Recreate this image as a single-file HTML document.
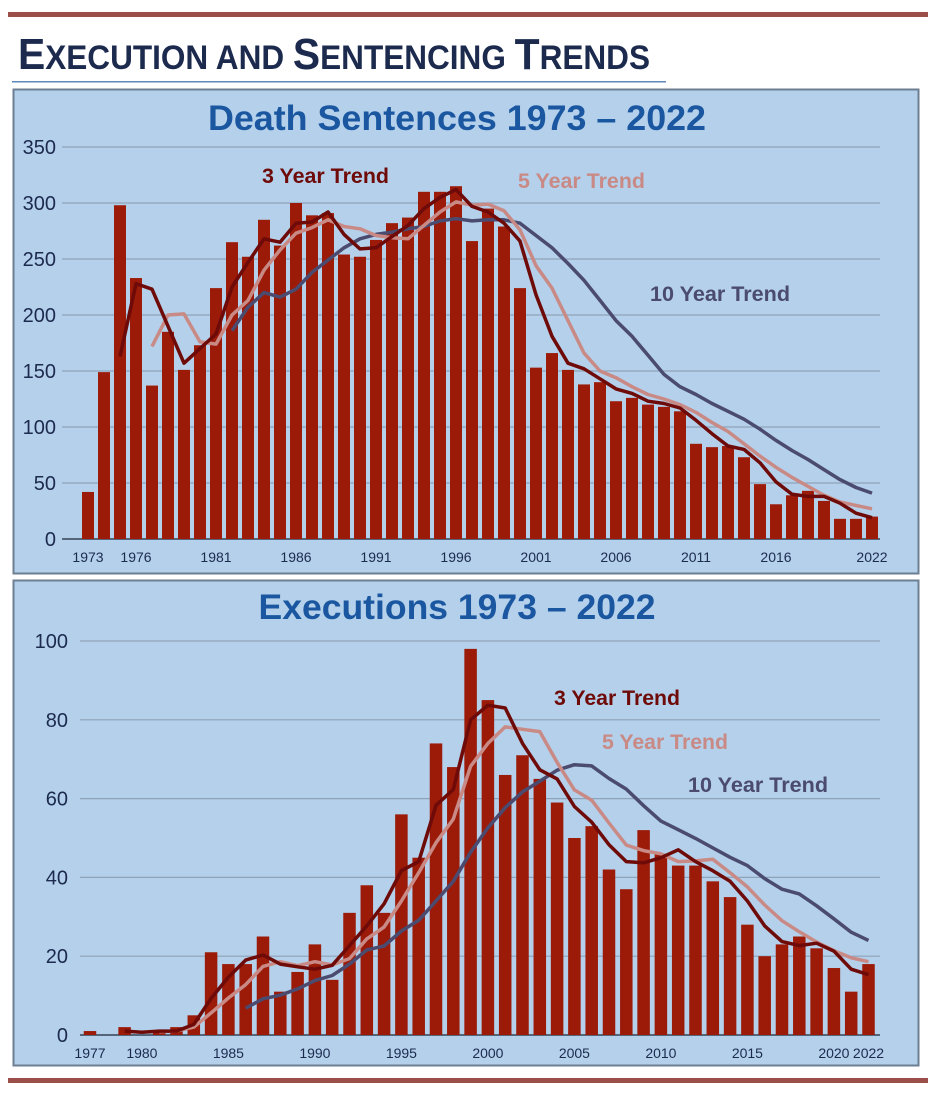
<!DOCTYPE html>
<html><head><meta charset="utf-8">
<style>
html,body{margin:0;padding:0;background:#fff;}
svg{display:block;font-family:"Liberation Sans",sans-serif;}
</style></head>
<body>
<svg id="s" width="936" height="1094" viewBox="0 0 936 1094" xmlns="http://www.w3.org/2000/svg">
<rect x="8" y="12" width="920" height="5" fill="#9c4f48"/>
<text x="18" y="69" font-size="44" font-weight="bold" fill="#1c2a4e" textLength="632" lengthAdjust="spacingAndGlyphs">E<tspan font-size="34">XECUTION AND </tspan>S<tspan font-size="34">ENTENCING </tspan>T<tspan font-size="34">RENDS</tspan></text>
<rect x="12" y="81" width="654" height="1.5" fill="#5d88b8"/>
<rect x="13.5" y="89.5" width="905" height="484" fill="#b4d0ea" stroke="#6c7f93" stroke-width="2"/>
<rect x="13.5" y="580.5" width="905" height="485" fill="#b4d0ea" stroke="#6c7f93" stroke-width="2"/>
<rect x="8" y="1078" width="920" height="5" fill="#9c4f48"/>
<g id="c1"></g><g id="c2"></g>
</svg>
<script>
// Death sentences data
const dsYears=[];for(let y=1973;y<=2022;y++)dsYears.push(y);
const dsValues=[42,149,298,233,137,185,151,173,224,265,252,285,262,300,289,291,254,252,267,282,287,310,310,315,266,295,279,224,153,166,151,138,140,123,126,120,118,114,85,82,83,73,49,31,39,43,34,18,18,20];
const ds3Start=1975;
const ds3=[163,228,223,190,157,170,183,225,247,268,265,282,283,292,272,259,260,270,280,295,305,312,297,292,282,266,218,181,157,152,143,134,130,123,121,117,106,94,83,80,68,51,40,38,38,32,23,19];
const ds5Start=1977;
const ds5=[172,200,201,176,174,200,213,240,258,273,278,285,279,277,271,269,268,280,292,301,298,299,293,276,244,224,195,166,150,144,136,129,125,120,113,104,96,85,74,64,55,47,39,33,30,27];
const ds10Start=1982;
const ds10=[186,207,220,216,223,238,249,260,268,272,274,277,279,284,286,284,285,285,282,271,260,246,231,213,195,181,164,147,136,129,121,114,107,98,88,79,71,62,53,46,41];
const dsYTicks=[0,50,100,150,200,250,300,350];
const dsXLabels=[1973,1976,1981,1986,1991,1996,2001,2006,2011,2016,2022];
// Executions data
const exYears=[];for(let y=1977;y<=2022;y++)exYears.push(y);
const exValues=[1,0,2,0,1,2,5,21,18,18,25,11,16,23,14,31,38,31,56,45,74,68,98,85,66,71,65,59,50,53,42,37,52,46,43,43,39,35,28,20,23,25,22,17,11,18];
const ex3Start=1979;
const ex3=[1,0.7,1,1,2.7,9.3,14.7,19,20.3,18,17.3,16.7,17.7,22.7,27.7,33.3,41.7,44,58.3,62.3,80,83.7,83,74,67.3,65,58,54,48.3,44,43.7,45,47,44,41.7,39,34,27.7,23.7,22.7,23.3,21.3,16.7,15.3];
const ex5Start=1981;
const ex5=[0.8,1,2,5.6,9.4,12.8,17.4,18.6,17.6,18.6,17.8,19.4,24.4,27.4,34,41.2,48.8,54.8,68.2,74,78.2,77.6,77,69.2,62.2,59.6,53.8,48.2,46.8,46,44,44.2,44.6,41.2,37.6,33,29,26.2,23.6,21.4,19.6,18.6];
const ex10Start=1986;
const ex10=[6.8,9.2,10.1,11.7,13.8,15.1,18.0,21.6,22.6,26.4,29.1,34.0,39.0,46.4,52.6,57.7,61.7,64.4,67.2,68.6,68.3,65.1,62.4,58.2,54.3,52.1,49.9,47.5,45.1,43.0,39.7,37.0,35.8,32.8,29.5,26.1,24.0];
const exYTicks=[0,20,40,60,80,100];
const exXLabels=[1977,1980,1985,1990,1995,2000,2005,2010,2015,2020,2022];

const NS="http://www.w3.org/2000/svg";
function mk(tag,attrs,parent){const e=document.createElementNS(NS,tag);for(const k in attrs)e.setAttribute(k,attrs[k]);parent.appendChild(e);return e;}

function chart(g,cfg){
  const x=yr=>cfg.x0+(yr-cfg.firstYear)*cfg.step;
  const y=v=>cfg.yBase-(v/cfg.yMax)*(cfg.yBase-cfg.yTop);
  const t=mk('text',{x:cfg.titleX,y:cfg.titleY,'font-size':35,'font-weight':'bold',fill:'#1a57a0','text-anchor':'middle',textLength:cfg.titleLen,lengthAdjust:'spacingAndGlyphs'},g);
  t.textContent=cfg.title;
  
  
  cfg.yTicks.forEach(v=>{
    const l=mk('line',{x1:cfg.gx0,x2:cfg.gx1,y1:y(v),y2:y(v),stroke:v===0?'#55657a':'#8fa3b8','stroke-width':v===0?2:1.2},g);
    
    
    const tx=mk('text',{x:cfg.yLabX,y:y(v)+7,'font-size':20,fill:'#1c2a4e','text-anchor':'end'},g);
    tx.textContent=v;
    
    
  });
  cfg.values.forEach((v,i)=>{
    const yr=cfg.firstYear+i;
    const r=mk('rect',{x:x(yr)-cfg.bw/2,y:y(v),width:cfg.bw,height:cfg.yBase-y(v),fill:'#9b1a08'},g);
    
    
  });
  cfg.xLabels.forEach(yr=>{
    const tx=mk('text',{x:x(yr),y:cfg.yBase+23,'font-size':14,fill:'#1c2a4e','text-anchor':'middle'},g);
    tx.textContent=yr;
    
    
  });
  cfg.lines.forEach(L=>{
    const pts=L.data.map((v,i)=>x(L.start+i).toFixed(1)+','+y(v).toFixed(1)).join(' ');
    const p=mk('polyline',{points:pts,fill:'none',stroke:L.color,'stroke-width':3.5,'stroke-linejoin':'round'},g);
    
    
    const tx=mk('text',{x:L.lx,y:L.ly,'font-size':21,'font-weight':'bold',fill:L.color,textLength:L.lw,lengthAdjust:'spacingAndGlyphs'},g);
    tx.textContent=L.label;
    
    
  });
}
chart(document.getElementById('c1'),{title:'Death Sentences 1973 – 2022',titleX:457,titleY:130,titleLen:498,
  firstYear:1973,x0:88,step:16,bw:12,yBase:539,yTop:147,yMax:350,gx0:62,gx1:880,yLabX:56,
  yTicks:dsYTicks,values:dsValues,xLabels:dsXLabels,
  lines:[{name:'ten-year-trend',start:ds10Start,data:ds10,color:'#4b4b70',label:'10 Year Trend',lx:650,ly:301,lw:140},
         {name:'five-year-trend',start:ds5Start,data:ds5,color:'#c98a86',label:'5 Year Trend',lx:518,ly:188,lw:127},
         {name:'three-year-trend',start:ds3Start,data:ds3,color:'#6e0a08',label:'3 Year Trend',lx:262,ly:183,lw:127}]});
chart(document.getElementById('c2'),{title:'Executions 1973 – 2022',titleX:457,titleY:619,titleLen:397,
  firstYear:1977,x0:90,step:17.3,bw:12.5,yBase:1035,yTop:641,yMax:100,gx0:80,gx1:880,yLabX:68,
  yTicks:exYTicks,values:exValues,xLabels:exXLabels,
  lines:[{name:'ten-year-trend',start:ex10Start,data:ex10,color:'#4b4b70',label:'10 Year Trend',lx:688,ly:792,lw:140},
         {name:'five-year-trend',start:ex5Start,data:ex5,color:'#c98a86',label:'5 Year Trend',lx:602,ly:749,lw:126},
         {name:'three-year-trend',start:ex3Start,data:ex3,color:'#6e0a08',label:'3 Year Trend',lx:554,ly:705,lw:126}]});
</script>
</body></html>
